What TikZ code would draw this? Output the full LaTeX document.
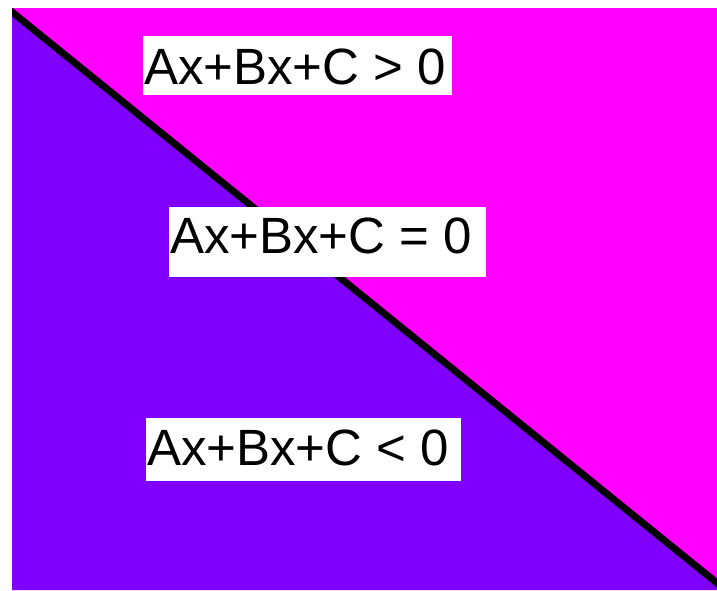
\documentclass[tikz,border=0pt]{standalone}
\usepackage{fontspec}
\setmainfont{Liberation Sans}
\usetikzlibrary{calc}
\definecolor{magentaR}{HTML}{FF00FF}
\definecolor{purpleR}{HTML}{7F00FF}
\begin{document}
\begin{tikzpicture}[x=1pt,y=-1pt,
  labelbox/.style={draw=none,fill=white,inner sep=0pt,outer sep=0pt},
  labeltext/.style={inner sep=0pt,outer sep=0pt,anchor=base west,font=\fontsize{51}{60}\selectfont}]
\useasboundingbox (0,0) rectangle (717,590);
\fill[white] (0,0) rectangle (717,590);
\coordinate (tl) at (12,8);
\coordinate (tr) at (717,8);
\coordinate (br) at (717,590);
\coordinate (bl) at (12,590);
\coordinate (ls) at (12,12);
\coordinate (le) at (717,583);
\fill[magentaR] (tl) -- (tr) -- (le) -- (ls) -- cycle;
\fill[purpleR] (ls) -- (le) -- (br) -- (bl) -- cycle;
\begin{scope}
\clip (tl) rectangle (br);
\draw[line width=7pt,black] ($(ls)!-0.02!(le)$) -- ($(le)!-0.02!(ls)$);
\end{scope}
\node[labelbox,minimum width=309pt,minimum height=59pt] (gt) at (297.5,65.5) {};
\node[labelbox,minimum width=317pt,minimum height=70pt] (eq) at (327.5,242) {};
\node[labelbox,minimum width=315pt,minimum height=63pt] (lt) at (303.5,449.5) {};
\node[labeltext] (gtt) at (144,84) {Ax+Bx+C > 0};
\node[labeltext] (eqt) at (170,253) {Ax+Bx+C = 0};
\node[labeltext] (ltt) at (147,465) {Ax+Bx+C < 0};
\end{tikzpicture}
\end{document}
